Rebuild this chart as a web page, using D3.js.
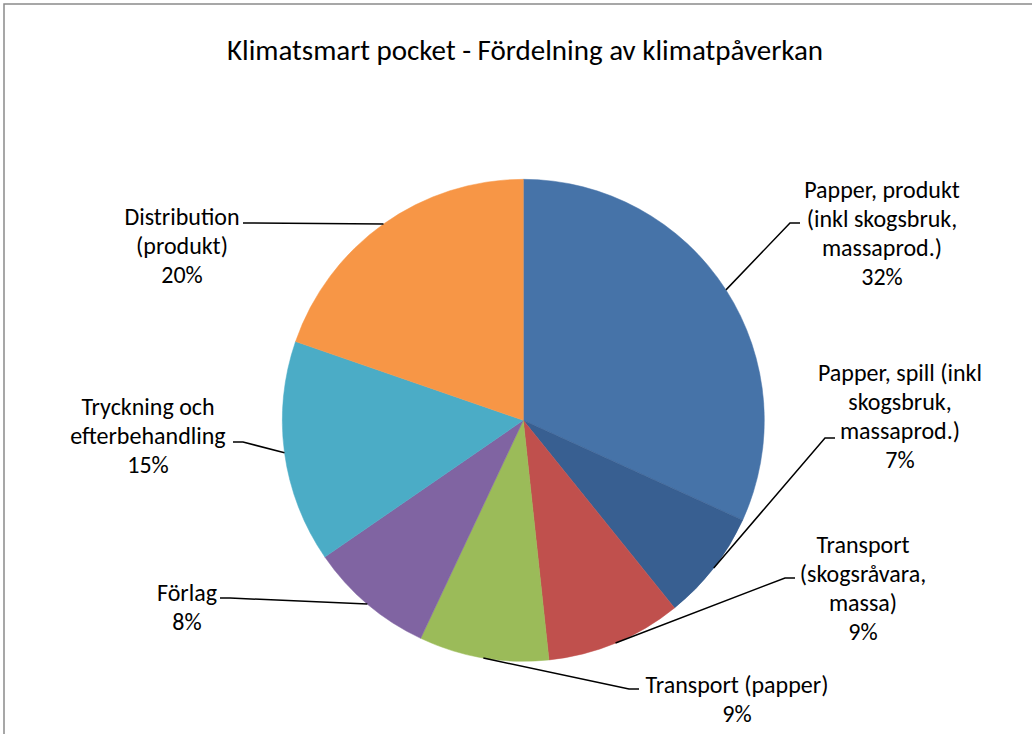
<!DOCTYPE html>
<html>
<head>
<meta charset="utf-8">
<script src="https://cdn.jsdelivr.net/npm/d3@7"></script>
<style>
  html, body { margin: 0; padding: 0; background: #fff; }
  svg { display: block; }
  text { font-family: Carlito, Lato, "Open Sans", sans-serif; fill: #000; }
</style>
</head>
<body>
<svg id="chart" width="1032" height="734"></svg>
<script>
// ---- data ----
const title = "Klimatsmart pocket - Fördelning av klimatpåverkan";
const categories = [
  "Papper, produkt (inkl skogsbruk, massaprod.)",
  "Papper, spill (inkl skogsbruk, massaprod.)",
  "Transport (skogsråvara, massa)",
  "Transport (papper)",
  "Förlag",
  "Tryckning och efterbehandling",
  "Distribution (produkt)"
];
const labelLines = [
  ["Papper, produkt", "(inkl skogsbruk,", "massaprod.)"],
  ["Papper, spill (inkl", "skogsbruk,", "massaprod.)"],
  ["Transport", "(skogsråvara,", "massa)"],
  ["Transport (papper)"],
  ["Förlag"],
  ["Tryckning och", "efterbehandling"],
  ["Distribution", "(produkt)"]
];
const values = [31.8, 7.4, 9.1, 8.7, 8.4, 14.9, 19.7];
const colors = ["#4673A8", "#385F91", "#C0504D", "#9BBB59", "#8064A2", "#4BACC6", "#F79646"];

// ---- layout (label anchors and leader elbows) ----
const labelPos = [
  { x: 882, y: 190 }, { x: 900, y: 373 }, { x: 863, y: 545 }, { x: 737, y: 685 },
  { x: 187, y: 593 }, { x: 148, y: 407 }, { x: 182, y: 217 }
];
const elbows = [
  [[790, 223], [800, 223]],
  [[825, 438], [835, 438]],
  [[785, 578], [795, 578]],
  [[629, 689], [639, 689]],
  [[230, 598], [220, 598]],
  [[243, 442], [233, 442]],
  [[253, 223], [243, 223]]
];

const svg = d3.select("#chart");
const W = 1032, H = 734;
const cx = 523.3, cy = 420.3, R = 241;
const lineH = 29;

// outer frame (extends past the viewport on right/bottom)
svg.append("rect")
  .attr("x", 4).attr("y", 4).attr("width", W + 20).attr("height", H + 20)
  .attr("fill", "#fff").attr("stroke", "#8a8a8a").attr("stroke-width", 1.5);

svg.append("text")
  .attr("x", 525).attr("y", 50).attr("dy", "0.35em")
  .attr("text-anchor", "middle")
  .style("font-size", "29px")
  .text(title);

const data = categories.map((c, i) => ({ name: c, value: values[i], color: colors[i], lines: labelLines[i], i }));
const total = d3.sum(values);
const pie = d3.pie().value(d => d.value).sort(null);
const arcs = pie(data);
const arc = d3.arc().innerRadius(0).outerRadius(R);
const edge = d3.arc().innerRadius(R).outerRadius(R);
const pct = d3.format(".0%");

const g = svg.append("g").attr("transform", `translate(${cx},${cy})`);
g.selectAll("path.slice").data(arcs).join("path")
  .attr("class", "slice")
  .attr("d", arc)
  .attr("fill", d => d.data.color)
  .attr("stroke", d => d.data.color)
  .attr("stroke-width", 0.5);

// leader lines
const line = d3.line();
svg.selectAll("path.leader").data(arcs).join("path")
  .attr("class", "leader")
  .attr("d", d => {
    const c = edge.centroid(d);
    const pts = [[cx + c[0], cy + c[1]]].concat(elbows[d.data.i]);
    return line(pts);
  })
  .attr("fill", "none")
  .attr("stroke", "#000")
  .attr("stroke-width", 1.5);

// labels
arcs.forEach(d => {
  const p = labelPos[d.data.i];
  const lines = d.data.lines.concat([pct(d.data.value / total)]);
  const t = svg.append("text")
    .attr("text-anchor", "middle")
    .style("font-size", "24px");
  lines.forEach((s, k) => {
    t.append("tspan").attr("x", p.x).attr("y", p.y + k * lineH).attr("dy", "0.35em").text(s);
  });
});
</script>
</body>
</html>
